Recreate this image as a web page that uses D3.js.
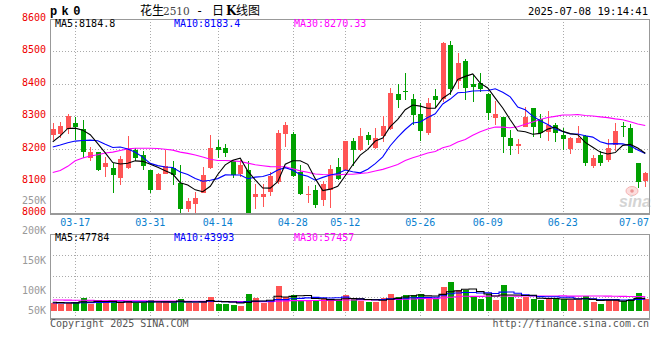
<!DOCTYPE html>
<html>
<head>
<meta charset="utf-8">
<script src="https://cdn.jsdelivr.net/npm/d3@7"></script>
<style>
    body { margin: 0; background: #fff; }
    svg { display: block; }
    text { font-family: "DejaVu Sans Mono", monospace; font-size: 10px; }
</style>
</head>
<body>
<svg id="chart" width="660" height="360"></svg>
<script>
// trading days shown on the chart
var dates = [
    "03-12", "03-13", "03-14", "03-17", "03-18", "03-19", "03-20", "03-21", "03-24", "03-25",
    "03-26", "03-27", "03-28", "03-31", "04-01", "04-02", "04-03", "04-07", "04-08", "04-09",
    "04-10", "04-11", "04-14", "04-15", "04-16", "04-17", "04-18", "04-21", "04-22", "04-23",
    "04-24", "04-25", "04-28", "04-29", "04-30", "05-06", "05-07", "05-08", "05-09", "05-12",
    "05-13", "05-14", "05-15", "05-16", "05-19", "05-20", "05-21", "05-22", "05-23", "05-26",
    "05-27", "05-28", "05-29", "05-30", "06-03", "06-04", "06-05", "06-06", "06-09", "06-10",
    "06-11", "06-12", "06-13", "06-16", "06-17", "06-18", "06-19", "06-20", "06-23", "06-24",
    "06-25", "06-26", "06-27", "06-30", "07-01", "07-02", "07-03", "07-04", "07-07", "07-08"
];

var open = [
    8243, 8244, 8260, 8278, 8261, 8172, 8189, 8144, 8141, 8108,
    8141, 8194, 8180, 8133, 8072, 8121, 8140, 8093, 8013, 8029,
    8064, 8141, 8206, 8201, 8160, 8120, 8135, 8050, 8051, 8067,
    8098, 8245, 8244, 8126, 8058, 8072, 8040, 8073, 8143, 8134,
    8223, 8196, 8242, 8202, 8239, 8259, 8368, 8378, 8353, 8306,
    8248, 8362, 8352, 8520, 8408, 8470, 8399, 8403, 8368, 8295,
    8297, 8232, 8207, 8268, 8325, 8292, 8252, 8272, 8242, 8198,
    8217, 8238, 8147, 8180, 8165, 8211, 8270, 8262, 8155, 8099
];
var high = [
    8278, 8282, 8307, 8296, 8287, 8204, 8190, 8173, 8155, 8178,
    8240, 8201, 8191, 8135, 8123, 8196, 8163, 8148, 8048, 8065,
    8144, 8242, 8227, 8214, 8166, 8166, 8160, 8091, 8091, 8129,
    8258, 8283, 8252, 8148, 8083, 8088, 8099, 8150, 8171, 8224,
    8233, 8262, 8252, 8263, 8301, 8386, 8398, 8432, 8367, 8340,
    8357, 8383, 8530, 8532, 8495, 8475, 8426, 8432, 8372, 8346,
    8298, 8257, 8230, 8328, 8326, 8306, 8316, 8280, 8264, 8237,
    8269, 8242, 8181, 8192, 8228, 8279, 8283, 8276, 8156, 8129
];
var low = [
    8227, 8232, 8245, 8227, 8170, 8160, 8132, 8113, 8062, 8087,
    8138, 8160, 8134, 8062, 8071, 8120, 8086, 7997, 8005, 7995,
    8062, 8137, 8171, 8173, 8109, 8111, 7998, 8014, 8020, 8052,
    8090, 8206, 8112, 8058, 8033, 8017, 8022, 8017, 8103, 8133,
    8145, 8193, 8212, 8200, 8220, 8257, 8325, 8350, 8274, 8224,
    8242, 8326, 8345, 8366, 8385, 8350, 8343, 8375, 8289, 8272,
    8187, 8180, 8183, 8266, 8236, 8234, 8222, 8221, 8197, 8183,
    8216, 8145, 8141, 8145, 8158, 8191, 8237, 8185, 8077, 8081
];
var close = [
    8259, 8270, 8300, 8265, 8190, 8189, 8133, 8155, 8117, 8168,
    8200, 8170, 8147, 8072, 8122, 8147, 8118, 8013, 8038, 8046,
    8118, 8202, 8195, 8187, 8117, 8150, 8002, 8061, 8060, 8116,
    8248, 8273, 8114, 8060, 8061, 8027, 8089, 8136, 8105, 8223,
    8196, 8238, 8225, 8233, 8270, 8372, 8351, 8374, 8305, 8253,
    8340, 8351, 8527, 8385, 8463, 8388, 8389, 8385, 8311, 8306,
    8235, 8207, 8215, 8297, 8267, 8248, 8273, 8247, 8230, 8232,
    8232, 8154, 8172, 8155, 8202, 8254, 8266, 8187, 8098, 8123
];
var volume = [
    30400, 27700, 32300, 34200, 49400, 28500, 38000, 29600, 38000, 29600,
    39100, 29600, 31200, 42600, 34200, 35300, 29600, 45600, 29600, 31200,
    37200, 54000, 27400, 28500, 23600, 19800, 64600, 50200, 31200, 37200,
    95800, 52400, 60800, 43700, 41800, 39900, 45600, 45600, 39900, 60800,
    45600, 38000, 35300, 35300, 50500, 64600, 54300, 60800, 60800, 63500,
    48300, 50500, 92300, 111300, 79800, 79800, 54300, 45600, 63500, 41800,
    98800, 54300, 45600, 54300, 45600, 41800, 50500, 45600, 45600, 41800,
    41800, 57000, 35300, 26600, 45600, 41800, 39100, 45600, 67300, 45600
];

// averages read off the left edge, where the earlier days are not on the chart
var ma5Head = [8221, 8239, 8262, 8263];
var ma10Head = [8205, 8211, 8218, 8223, 8225, 8226, 8224, 8213, 8203];
var ma30Head = [
    8126, 8132, 8145, 8162, 8171, 8177, 8181, 8186, 8189, 8194,
    8199, 8201, 8201, 8201, 8200, 8198, 8195, 8189, 8185, 8180,
    8174, 8167, 8163, 8163, 8162, 8160, 8155, 8150, 8147
];
var vma5Head = [33000, 31800, 30500, 31000];
var vma10Head = [30500, 30800, 31200, 31000, 31600, 32000, 32400, 32900, 33300];
var vma30Head = [
    41800, 41600, 41200, 41000, 40900, 40500, 40100, 39800, 39600, 39300,
    39100, 38800, 38400, 38200, 38000, 37700, 37500, 37200, 37000, 36800,
    36700, 36400, 36200, 35900, 35800, 35600, 35500, 35400, 35300
];

// legend readouts as printed on the chart
var priceLegend = ["MA5:8184.8", "MA10:8183.4", "MA30:8270.33"];
var volumeLegend = ["MA5:47784", "MA10:43993", "MA30:57457"];

var priceTicks = [8600, 8500, 8400, 8300, 8200, 8100, 8000];
var volTicks = [250000, 200000, 150000, 100000, 50000];
var dateTicks = ["03-17", "03-31", "04-14", "04-28", "05-12", "05-26", "06-09", "06-23", "07-07"];

var RED = "#ff5555", GREEN = "#00a000", GRID = "#aaa", FRAME = "#999";
var MA_COLORS = ["#000", "#0000ff", "#ff00ff"];
var svg = d3.select("#chart");

var left = 50, right = 649;
var pTop = 19, pBottom = 213.3;
var vTop = 234, vBottom = 318, vBase = 311;

var x = d3.scaleBand().domain(dates).range([49, 649]);
var cx = function (d) { return x(d) + x.bandwidth() / 2; };
var y = d3.scaleLinear().domain([8000, 8600]).range([pBottom, pTop]);
var yv = d3.scaleLinear().domain([0, 292600]).range([vBase, vTop]);
// the volume labels sit on their own spacing in the original
var volLabelY = d3.scaleLinear().domain([100000, 250000]).range([290.5, 200.5]);

function movingAvg(values, n, head) {
    return values.map(function (v, i) {
        if (i < n - 1) {
            return head[i];
        }
        return d3.mean(values.slice(i - n + 1, i + 1));
    });
}

var ma5 = movingAvg(close, 5, ma5Head);
var ma10 = movingAvg(close, 10, ma10Head);
var ma30 = movingAvg(close, 30, ma30Head);
var vma5 = movingAvg(volume, 5, vma5Head);
var vma10 = movingAvg(volume, 10, vma10Head);
var vma30 = movingAvg(volume, 30, vma30Head);

var defs = svg.append("defs");
defs.append("clipPath").attr("id", "priceClip")
    .append("rect").attr("x", left).attr("y", pTop).attr("width", right - left).attr("height", pBottom - pTop);

// grid
var grid = svg.append("g").attr("stroke", GRID).attr("stroke-dasharray", "1,2").attr("shape-rendering", "crispEdges");
grid.selectAll(".hp").data(priceTicks.slice(1, -1)).enter().append("line")
    .attr("x1", left).attr("x2", right)
    .attr("y1", function (d) { return Math.round(y(d)) + 0.5; })
    .attr("y2", function (d) { return Math.round(y(d)) + 0.5; });
grid.selectAll(".hv").data([1, 2, 3]).enter().append("line")
    .attr("x1", left).attr("x2", right)
    .attr("y1", function (d) { return Math.round(vTop + d * (vBottom - vTop) / 4) + 0.5; })
    .attr("y2", function (d) { return Math.round(vTop + d * (vBottom - vTop) / 4) + 0.5; });
dateTicks.slice(0, -1).forEach(function (d) {
    var gx = Math.round(cx(d)) + 0.5;
    grid.append("line").attr("x1", gx).attr("x2", gx).attr("y1", pTop).attr("y2", pBottom);
    grid.append("line").attr("x1", gx).attr("x2", gx).attr("y1", vTop).attr("y2", vBottom);
});

// sina watermark
var mark = svg.append("g").attr("opacity", 0.6);
mark.append("ellipse").attr("cx", 632).attr("cy", 191).attr("rx", 6).attr("ry", 4.5)
    .attr("fill", "#fbc8c8").attr("stroke", "#f08080").attr("stroke-width", 1);
mark.append("circle").attr("cx", 632).attr("cy", 191).attr("r", 1.8).attr("fill", "#e05050");
mark.append("text").attr("x", 619).attr("y", 207)
    .style("font-family", "Liberation Sans, Arial, sans-serif").style("font-size", "16px")
    .style("font-weight", "bold").style("font-style", "italic").attr("fill", "#b8b8b8")
    .text("sina");

// candles
var candles = svg.append("g").attr("clip-path", "url(#priceClip)").attr("shape-rendering", "crispEdges");
var bodyW = 5;
dates.forEach(function (d, i) {
    var up = close[i] >= open[i];
    var col = up ? RED : GREEN;
    var c = Math.round(cx(d));
    candles.append("line")
        .attr("x1", c + 0.5).attr("x2", c + 0.5)
        .attr("y1", y(high[i])).attr("y2", y(low[i]))
        .attr("stroke", col);
    var top = y(Math.max(open[i], close[i]));
    var h = Math.max(1, y(Math.min(open[i], close[i])) - top);
    candles.append("rect")
        .attr("x", c - 2).attr("y", top)
        .attr("width", bodyW).attr("height", h)
        .attr("fill", col);
});

// volume bars
svg.append("g").attr("shape-rendering", "crispEdges")
    .selectAll("rect").data(dates).enter().append("rect")
    .attr("x", function (d) { return Math.round(cx(d)) - 2; })
    .attr("y", function (d, i) { return yv(volume[i]); })
    .attr("width", bodyW + 1)
    .attr("height", function (d, i) { return vBase - yv(volume[i]); })
    .attr("fill", function (d, i) { return close[i] >= open[i] ? RED : GREEN; });

// moving averages
function drawLine(values, scale, color, curve) {
    var line = d3.line()
        .x(function (v, i) { return cx(dates[i]); })
        .y(function (v) { return scale(v); })
        .curve(curve);
    svg.append("path").datum(values)
        .attr("d", line)
        .attr("fill", "none")
        .attr("stroke", color)
        .attr("stroke-width", 1.1);
}
drawLine(ma30, y, MA_COLORS[2], d3.curveLinear);
drawLine(ma10, y, MA_COLORS[1], d3.curveLinear);
drawLine(ma5, y, MA_COLORS[0], d3.curveLinear);
drawLine(vma30, yv, MA_COLORS[2], d3.curveStep);
drawLine(vma10, yv, MA_COLORS[1], d3.curveStep);
drawLine(vma5, yv, MA_COLORS[0], d3.curveStep);

// frames
var frame = svg.append("g").attr("fill", "none").attr("stroke", FRAME).attr("shape-rendering", "crispEdges");
frame.append("rect").attr("x", left + 0.5).attr("y", pTop + 0.5).attr("width", right - left).attr("height", pBottom - pTop - 0.5);
frame.append("rect").attr("x", left + 0.5).attr("y", vTop + 0.5).attr("width", right - left).attr("height", vBottom - vTop);
frame.append("line").attr("x1", left).attr("x2", right + 1).attr("y1", pBottom + 0.5).attr("y2", pBottom + 0.5).attr("stroke-width", 2);
frame.append("line").attr("x1", left).attr("x2", right + 1).attr("y1", vBottom + 0.5).attr("y2", vBottom + 0.5).attr("stroke-width", 2);

// axis labels
svg.append("g").selectAll("text").data(priceTicks).enter().append("text")
    .attr("x", 46).attr("y", function (d) { return Math.min(y(d) + 2, 216); })
    .attr("text-anchor", "end").attr("fill", "#ee0000")
    .text(function (d) { return d; });

svg.append("g").selectAll("text").data(volTicks).enter().append("text")
    .attr("x", 46).attr("y", function (d) { return Math.min(volLabelY(d), 310.5) + 3.5; })
    .attr("text-anchor", "end").attr("fill", "#999")
    .text(function (d) { return (d / 1000) + "K"; });

svg.append("g").selectAll("text").data(dateTicks).enter().append("text")
    .attr("x", function (d) { return Math.min(cx(d), right - 15); })
    .attr("y", 226)
    .attr("text-anchor", "middle").attr("fill", "#0a7fcf")
    .text(function (d) { return d; });

// legends
var legendX = [55, 174, 294];
[[priceLegend, 27], [volumeLegend, 241]].forEach(function (row) {
    svg.append("g").selectAll("text").data(row[0]).enter().append("text")
        .attr("x", function (d, i) { return legendX[i]; })
        .attr("y", row[1])
        .attr("fill", function (d, i) { return MA_COLORS[i]; })
        .text(function (d) { return d; });
});

// header
svg.append("text").attr("x", 50).attr("y", 15)
    .style("font-family", "Liberation Mono, monospace").style("font-size", "12px")
    .style("font-weight", "bold").style("letter-spacing", "4.4px")
    .text("pk0");

var title = svg.append("text").attr("y", 15).style("font-size", "12px");
title.append("tspan").attr("x", 140).style("font-family", "Noto Sans CJK SC").text("花生");
title.append("tspan").attr("x", 163).style("font-family", "DejaVu Serif").style("font-size", "10.5px").attr("fill", "#444").text("2510");
title.append("tspan").attr("x", 196).style("font-family", "DejaVu Sans Mono").text("-");
title.append("tspan").attr("x", 212).style("font-family", "Noto Sans CJK SC").text("日");
title.append("tspan").attr("x", 226).style("font-family", "DejaVu Serif").style("font-weight", "bold").text("K");
title.append("tspan").attr("x", 236).style("font-family", "Noto Sans CJK SC").text("线图");

svg.append("text").attr("x", 648).attr("y", 15).attr("text-anchor", "end")
    .style("font-size", "10.5px").text("2025-07-08 19:14:41");

svg.append("text").attr("x", 50).attr("y", 327).attr("fill", "#555").text("Copyright 2025 SINA.COM");
svg.append("text").attr("x", 649).attr("y", 327).attr("text-anchor", "end").attr("fill", "#555").text("http://finance.sina.com.cn");
</script>
</body>
</html>
